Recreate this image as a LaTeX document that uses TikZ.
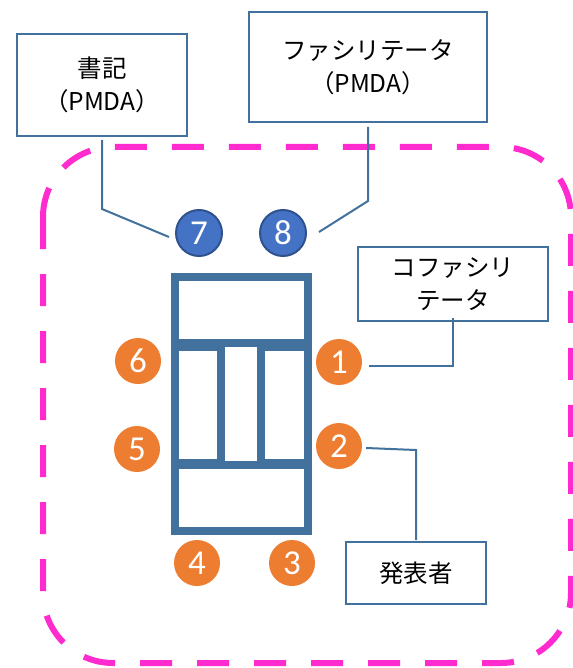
\documentclass[tikz,border=0pt]{standalone}
\usepackage{fontspec}
\setmainfont{Carlito}
\newfontfamily\jp{Noto Sans CJK JP}
\usetikzlibrary{calc}
\definecolor{tb}{HTML}{41719C}
\definecolor{mag}{HTML}{FF2BCF}
\definecolor{cblue}{HTML}{4472C4}
\definecolor{cblueb}{HTML}{2F528F}
\definecolor{corange}{HTML}{ED7D31}
\begin{document}
\begin{tikzpicture}[x=1pt,y=-1pt,
  box/.style={draw=tb, line width=2pt, fill=white, inner sep=0pt, align=center,
    font=\jp\fontsize{24.5}{33}\selectfont},
  numc/.style={circle, minimum size=46pt, inner sep=0pt, text=white,
    font=\fontsize{35}{35}\selectfont},
  bluec/.style={numc, fill=cblue, draw=cblueb, line width=2pt},
  orangec/.style={numc, fill=corange},
  conn/.style={draw=tb, line width=2pt}]
\useasboundingbox (0,0) rectangle (572,668);
% dashed boundary
\draw[mag, line width=6pt, dash pattern=on 32pt off 25pt, rounded corners=70pt]
  (43,147) rectangle (571,663);
% boxes
\node[box, minimum width=170pt, minimum height=102pt] (shoki) at (102,85) {書記\\（PMDA）};
\node[box, minimum width=238pt, minimum height=110pt] (fac) at (368,67) {ファシリテータ\\（PMDA）};
\node[box, minimum width=190pt, minimum height=74pt] (cofac) at (453,284) {コファシリ\\テータ};
\node[box, minimum width=140pt, minimum height=62pt] (hap) at (416,573) {発表者};
% table
\fill[tb] (171,273) rectangle (312,535);
\fill[white] (179,281) rectangle (304,339);
\fill[white] (179,351) rectangle (217,459);
\fill[white] (225,347) rectangle (257,461);
\fill[white] (265,351) rectangle (304,459);
\fill[white] (179,469) rectangle (304,527);
% circles
\node[bluec] (c7) at (199,233) {7};
\node[bluec] (c8) at (283,233) {8};
\node[orangec] (c6) at (138,361) {6};
\node[orangec] (c1) at (339,362) {1};
\node[orangec] (c5) at (137,449) {5};
\node[orangec] (c2) at (339,446) {2};
\node[orangec] (c4) at (197,563) {4};
\node[orangec] (c3) at (292,563) {3};
% connectors
\draw[conn] ([shift={(0,3)}]shoki.south) -- ++(0,69) -- ([shift={(-6,4)}]c7.west);
\draw[conn] ([shift={(0,4)}]fac.south) -- ++(0,74) -- ([shift={(12,-1)}]c8.east);
\draw[conn] ([shift={(7,4)}]c1.east) -| ([shift={(0,-4)}]cofac.south);
\draw[conn] ([shift={(4,2)}]c2.east) -- ($(hap.north)+(0,-91)$) -- ([shift={(0,-1)}]hap.north);
\end{tikzpicture}
\end{document}
